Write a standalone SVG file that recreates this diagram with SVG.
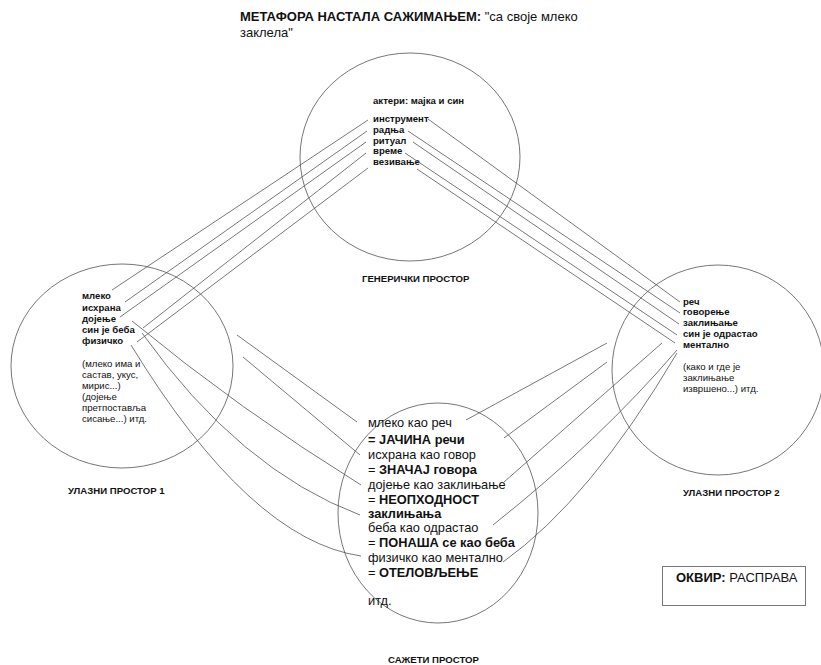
<svg xmlns="http://www.w3.org/2000/svg" width="821" height="665" viewBox="0 0 821 665">
  <style>
    text { font-family: "Liberation Sans", Arial, sans-serif; fill: #111; }
    .b { font-weight: bold; }
    .s { font-size: 9.6px; }
    .m { font-size: 12.8px; }
    .t { font-size: 13px; }
    .space { fill: none; stroke: #666; stroke-width: 0.9; }
    .link { fill: none; stroke: #555; stroke-width: 0.8; }
  </style>
  <rect width="821" height="665" fill="#fff"/>

  <!-- heading -->
  <g id="title">
    <text class="t" x="240" y="21"><tspan class="b">МЕТАФОРА НАСТАЛА САЖИМАЊЕМ:</tspan> "са своје млеко</text>
    <text class="t" x="240" y="37">заклела"</text>
  </g>

  <!-- generic space -->
  <g id="generic">
    <ellipse class="space" cx="410" cy="157" rx="110" ry="104"/>
    <text class="s b" x="373" y="104">актери: мајка и син</text>
    <text class="s b" x="373" y="122">инструмент</text>
    <text class="s b" x="373" y="133">радња</text>
    <text class="s b" x="373" y="143.5">ритуал</text>
    <text class="s b" x="373" y="154">време</text>
    <text class="s b" x="373" y="165">везивање</text>
    <text class="s b" x="362" y="282">ГЕНЕРИЧКИ ПРОСТОР</text>
  </g>

  <!-- input space 1 -->
  <g id="input1">
    <ellipse class="space" cx="122" cy="366" rx="111" ry="102"/>
    <text class="s b" x="82" y="299">млеко</text>
    <text class="s b" x="82" y="310.5">исхрана</text>
    <text class="s b" x="82" y="321.5">дојење</text>
    <text class="s b" x="82" y="332.5">син је беба</text>
    <text class="s b" x="82" y="343.5">физичко</text>
    <text class="s" x="82" y="366.5">(млеко има и</text>
    <text class="s" x="82" y="377.5">састав, укус,</text>
    <text class="s" x="82" y="388.5">мирис...)</text>
    <text class="s" x="82" y="399.5">(дојење</text>
    <text class="s" x="82" y="410.5">претпоставља</text>
    <text class="s" x="82" y="421.5">сисање...) итд.</text>
    <text class="s b" x="68" y="493.5">УЛАЗНИ ПРОСТОР 1</text>
  </g>

  <!-- input space 2 -->
  <g id="input2">
    <ellipse class="space" cx="718" cy="370" rx="106" ry="105"/>
    <text class="s b" x="683" y="304.5">реч</text>
    <text class="s b" x="683" y="315">говорење</text>
    <text class="s b" x="683" y="326">заклињање</text>
    <text class="s b" x="683" y="336.5">син је одрастао</text>
    <text class="s b" x="683" y="347.5">ментално</text>
    <text class="s" x="683" y="370">(како и где је</text>
    <text class="s" x="683" y="381">заклињање</text>
    <text class="s" x="683" y="392">извршено...) итд.</text>
    <text class="s b" x="683" y="496">УЛАЗНИ ПРОСТОР 2</text>
  </g>

  <!-- blended space -->
  <g id="blend">
    <ellipse class="space" cx="438" cy="513" rx="100" ry="110"/>
    <text class="m" x="368" y="427">млеко као реч</text>
    <text class="m b" x="368" y="443.5">= ЈАЧИНА речи</text>
    <text class="m" x="368" y="458.5">исхрана као говор</text>
    <text class="m" x="368" y="473.5">= <tspan class="b">ЗНАЧАЈ говора</tspan></text>
    <text class="m" x="368" y="488.5">дојење као заклињање</text>
    <text class="m" x="368" y="503.5">= <tspan class="b">НЕОПХОДНОСТ</tspan></text>
    <text class="m b" x="368" y="518">заклињања</text>
    <text class="m" x="368" y="532">беба као одрастао</text>
    <text class="m" x="368" y="547">= <tspan class="b">ПОНАША се као беба</tspan></text>
    <text class="m" x="368" y="562">физичко као ментално</text>
    <text class="m" x="368" y="577">= <tspan class="b">ОТЕЛОВЉЕЊЕ</tspan></text>
    <text class="m" x="368" y="605">итд.</text>
    <text class="s b" x="388" y="663">САЖЕТИ ПРОСТОР</text>
  </g>

  <!-- frame box -->
  <g id="frame">
    <rect x="662.5" y="566.5" width="143" height="39" fill="none" stroke="#777" stroke-width="1"/>
    <text class="t" x="676" y="582"><tspan class="b">ОКВИР:</tspan> РАСПРАВА</text>
  </g>

  <!-- connectors -->
  <g id="connectors">
    <!-- generic to input 1 -->
    <line class="link" x1="368" y1="120" x2="112" y2="290"/>
    <line class="link" x1="367" y1="131" x2="125" y2="302"/>
    <line class="link" x1="366" y1="142" x2="120" y2="317"/>
    <line class="link" x1="366" y1="153" x2="143" y2="328"/>
    <line class="link" x1="368" y1="168" x2="137" y2="342"/>
    <!-- generic to input 2 -->
    <line class="link" x1="428" y1="119" x2="680" y2="302"/>
    <line class="link" x1="408" y1="131" x2="680" y2="313"/>
    <line class="link" x1="413" y1="142" x2="679" y2="324"/>
    <line class="link" x1="405" y1="153" x2="677" y2="335"/>
    <line class="link" x1="417" y1="169" x2="675" y2="343"/>
    <!-- input 1 to blend -->
    <line class="link" x1="237" y1="335" x2="357" y2="422"/>
    <line class="link" x1="243" y1="357" x2="360" y2="455"/>
    <path class="link" d="M132 321 Q 240 410 361 485"/>
    <path class="link" d="M142 333 Q 240 470 360 515"/>
    <path class="link" d="M131 345 Q 250 540 361 556"/>
    <!-- input 2 to blend -->
    <line class="link" x1="607" y1="343" x2="466" y2="420"/>
    <line class="link" x1="607" y1="362" x2="504" y2="438"/>
    <line class="link" x1="662" y1="343" x2="504" y2="482"/>
    <path class="link" d="M677 350 Q 600 440 493 525"/>
    <path class="link" d="M677 353 Q 590 500 503 562"/>
  </g>
</svg>
